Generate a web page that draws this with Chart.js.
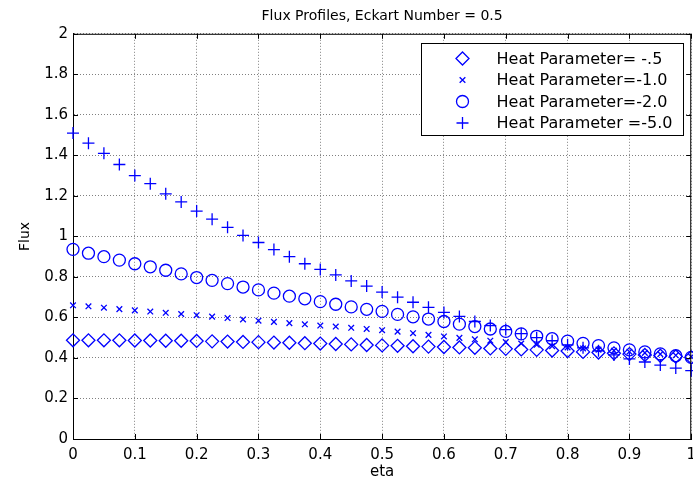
<!DOCTYPE html>
<html>
<head>
<meta charset="utf-8">
<title>Flux Profiles</title>
<script src="https://cdn.jsdelivr.net/npm/chart.js@4/dist/chart.umd.min.js"></script>
<style>
    html, body { margin: 0; padding: 0; background: #fff; overflow: hidden; }
    #wrap { width: 693px; height: 484px; overflow: hidden; }
</style>
</head>
<body>
<div id="wrap"><canvas id="fluxChart" width="703" height="484"></canvas></div>
<script>
// eta positions (x) and flux values
const eta = [0, 0.025, 0.05, 0.075, 0.1, 0.125, 0.15, 0.175, 0.2, 0.225, 0.25, 0.275, 0.3, 0.325,
    0.35, 0.375, 0.4, 0.425, 0.45, 0.475, 0.5, 0.525, 0.55, 0.575, 0.6, 0.625, 0.65, 0.675, 0.7,
    0.725, 0.75, 0.775, 0.8, 0.825, 0.85, 0.875, 0.9, 0.925, 0.95, 0.975, 1];

const fluxHeat05 = [0.487, 0.487, 0.487, 0.487, 0.486, 0.486, 0.485, 0.485, 0.484, 0.482, 0.481,
    0.479, 0.478, 0.476, 0.475, 0.473, 0.471, 0.469, 0.467, 0.464, 0.462, 0.460, 0.458, 0.456,
    0.454, 0.452, 0.450, 0.447, 0.445, 0.442, 0.440, 0.437, 0.434, 0.430, 0.427, 0.423, 0.419,
    0.415, 0.411, 0.407, 0.403];

const fluxHeat10 = [0.660, 0.655, 0.648, 0.641, 0.635, 0.629, 0.623, 0.617, 0.611, 0.604, 0.597,
    0.590, 0.584, 0.578, 0.572, 0.566, 0.560, 0.555, 0.549, 0.543, 0.537, 0.530, 0.522, 0.514,
    0.506, 0.499, 0.492, 0.485, 0.478, 0.471, 0.465, 0.458, 0.452, 0.447, 0.441, 0.436, 0.431,
    0.425, 0.419, 0.413, 0.406];

const fluxHeat20 = [0.936, 0.917, 0.900, 0.883, 0.865, 0.850, 0.833, 0.815, 0.797, 0.783, 0.767,
    0.750, 0.736, 0.720, 0.705, 0.692, 0.678, 0.665, 0.652, 0.640, 0.630, 0.615, 0.603, 0.592,
    0.580, 0.567, 0.555, 0.543, 0.531, 0.519, 0.507, 0.495, 0.483, 0.472, 0.461, 0.450, 0.440,
    0.430, 0.420, 0.411, 0.403];

const fluxHeat50 = [1.510, 1.460, 1.410, 1.355, 1.300, 1.260, 1.210, 1.170, 1.125, 1.085, 1.045,
    1.005, 0.970, 0.935, 0.900, 0.865, 0.837, 0.810, 0.780, 0.755, 0.725, 0.700, 0.675, 0.650,
    0.625, 0.605, 0.580, 0.560, 0.540, 0.520, 0.500, 0.485, 0.465, 0.450, 0.435, 0.415, 0.395,
    0.380, 0.365, 0.350, 0.337];

const seriesLabels = ['Heat Parameter= -.5', 'Heat Parameter=-1.0', 'Heat Parameter=-2.0', 'Heat Parameter =-5.0'];
const xTickValues = [0, 0.1, 0.2, 0.3, 0.4, 0.5, 0.6, 0.7, 0.8, 0.9, 1];
const yTickValues = [0, 0.2, 0.4, 0.6, 0.8, 1, 1.2, 1.4, 1.6, 1.8, 2];

const BLUE = '#0000ff';
Chart.defaults.font.family = "'DejaVu Sans', sans-serif";
Chart.defaults.color = '#000';

const toPoints = (ys) => eta.map((x, i) => ({ x: x, y: ys[i] }));
const fmt = (v) => String(parseFloat(Number(v).toFixed(3)));

function makeSet(label, ys, style, radius) {
    return {
        label: label,
        data: toPoints(ys),
        showLine: false,
        pointStyle: style,
        pointRadius: radius,
        pointHoverRadius: radius,
        pointBorderColor: BLUE,
        pointBackgroundColor: 'rgba(0,0,0,0)',
        pointBorderWidth: 1.3,
        borderColor: BLUE,
        backgroundColor: 'rgba(0,0,0,0)',
        clip: false
    };
}

// small fallback in case helpers.drawPoint is missing
function markerAt(ctx, style, r, x, y) {
    if (Chart.helpers && Chart.helpers.drawPoint) {
        Chart.helpers.drawPoint(ctx, { pointStyle: style, radius: r, rotation: 0, borderWidth: 1.3 }, x, y);
        return;
    }
    ctx.beginPath();
    ctx.arc(x, y, r, 0, Math.PI * 2);
    ctx.stroke();
}

// MATLAB-ish box, inward ticks and legend
const matlabFrame = {
    id: 'matlabFrame',
    afterDraw(chart) {
        const { ctx, chartArea: a, scales } = chart;
        ctx.save();
        ctx.strokeStyle = '#000';
        ctx.lineWidth = 1;
        ctx.beginPath();
        ctx.moveTo(a.left, a.top + 0.5);
        ctx.lineTo(a.right, a.top + 0.5);
        ctx.moveTo(a.right - 0.5, a.top);
        ctx.lineTo(a.right - 0.5, a.bottom);
        xTickValues.forEach(v => {
            const px = Math.round(scales.x.getPixelForValue(v)) + 0.5;
            ctx.moveTo(px, a.bottom); ctx.lineTo(px, a.bottom - 5);
            ctx.moveTo(px, a.top); ctx.lineTo(px, a.top + 5);
        });
        yTickValues.forEach(v => {
            const py = Math.round(scales.y.getPixelForValue(v)) + 0.5;
            ctx.moveTo(a.left, py); ctx.lineTo(a.left + 5, py);
            ctx.moveTo(a.right, py); ctx.lineTo(a.right - 5, py);
        });
        ctx.stroke();

        // legend box
        const bw = 262, bh = 92;
        const bx = Math.round(a.right - 8 - bw) + 0.5;
        const by = Math.round(a.top + 9) + 0.5;
        ctx.fillStyle = '#fff';
        ctx.fillRect(bx, by, bw, bh);
        ctx.strokeRect(bx, by, bw, bh);

        ctx.font = "16px 'DejaVu Sans', sans-serif";
        ctx.textBaseline = 'middle';
        ctx.textAlign = 'left';
        chart.data.datasets.forEach((ds, i) => {
            const cy = by + 15 + i * 21.5;
            ctx.strokeStyle = BLUE;
            ctx.fillStyle = 'rgba(0,0,0,0)';
            ctx.lineWidth = 1.3;
            markerAt(ctx, ds.pointStyle, ds.pointRadius, bx + 41, cy);
            ctx.fillStyle = '#000';
            ctx.fillText(ds.label, bx + 75, cy + 1);
        });
        ctx.restore();
    }
};

const ctx = document.getElementById('fluxChart').getContext('2d');
new Chart(ctx, {
    type: 'scatter',
    data: {
        datasets: [
            makeSet(seriesLabels[0], fluxHeat05, 'rectRot', 6.5),
            makeSet(seriesLabels[1], fluxHeat10, 'crossRot', 4),
            makeSet(seriesLabels[2], fluxHeat20, 'circle', 6),
            makeSet(seriesLabels[3], fluxHeat50, 'cross', 6)
        ]
    },
    options: {
        responsive: false,
        animation: false,
        layout: { padding: { left: 0, right: 0, top: 0, bottom: 0 } },
        plugins: {
            legend: { display: false },
            tooltip: { enabled: false },
            title: {
                display: true,
                fullSize: false,
                text: 'Flux Profiles, Eckart Number = 0.5',
                color: '#000',
                font: { size: 14, weight: 'normal' },
                padding: { top: 8, bottom: 9 }
            }
        },
        scales: {
            x: {
                type: 'linear',
                min: 0,
                max: 1,
                afterBuildTicks: (s) => { s.ticks = xTickValues.map(v => ({ value: v })); },
                afterFit: (s) => { s.height = 45; },
                ticks: { padding: 7, maxRotation: 0, autoSkip: false, font: { size: 15 }, callback: fmt },
                grid: { color: '#808080', lineWidth: 1, drawTicks: false },
                border: { display: true, color: '#000', width: 1, dash: [1, 2] },
                title: { display: true, text: 'eta', font: { size: 15 }, padding: { top: 0, bottom: 3 } }
            },
            y: {
                type: 'linear',
                min: 0,
                max: 2,
                afterBuildTicks: (s) => { s.ticks = yTickValues.map(v => ({ value: v })); },
                afterFit: (s) => { s.width = 73; },
                ticks: { padding: 5, autoSkip: false, font: { size: 15 }, callback: fmt },
                grid: { color: '#808080', lineWidth: 1, drawTicks: false },
                border: { display: true, color: '#000', width: 1, dash: [1, 2] },
                title: { display: true, text: 'Flux', font: { size: 14 }, padding: { top: 17, bottom: 0 } }
            }
        }
    },
    plugins: [matlabFrame]
});
</script>
</body>
</html>
